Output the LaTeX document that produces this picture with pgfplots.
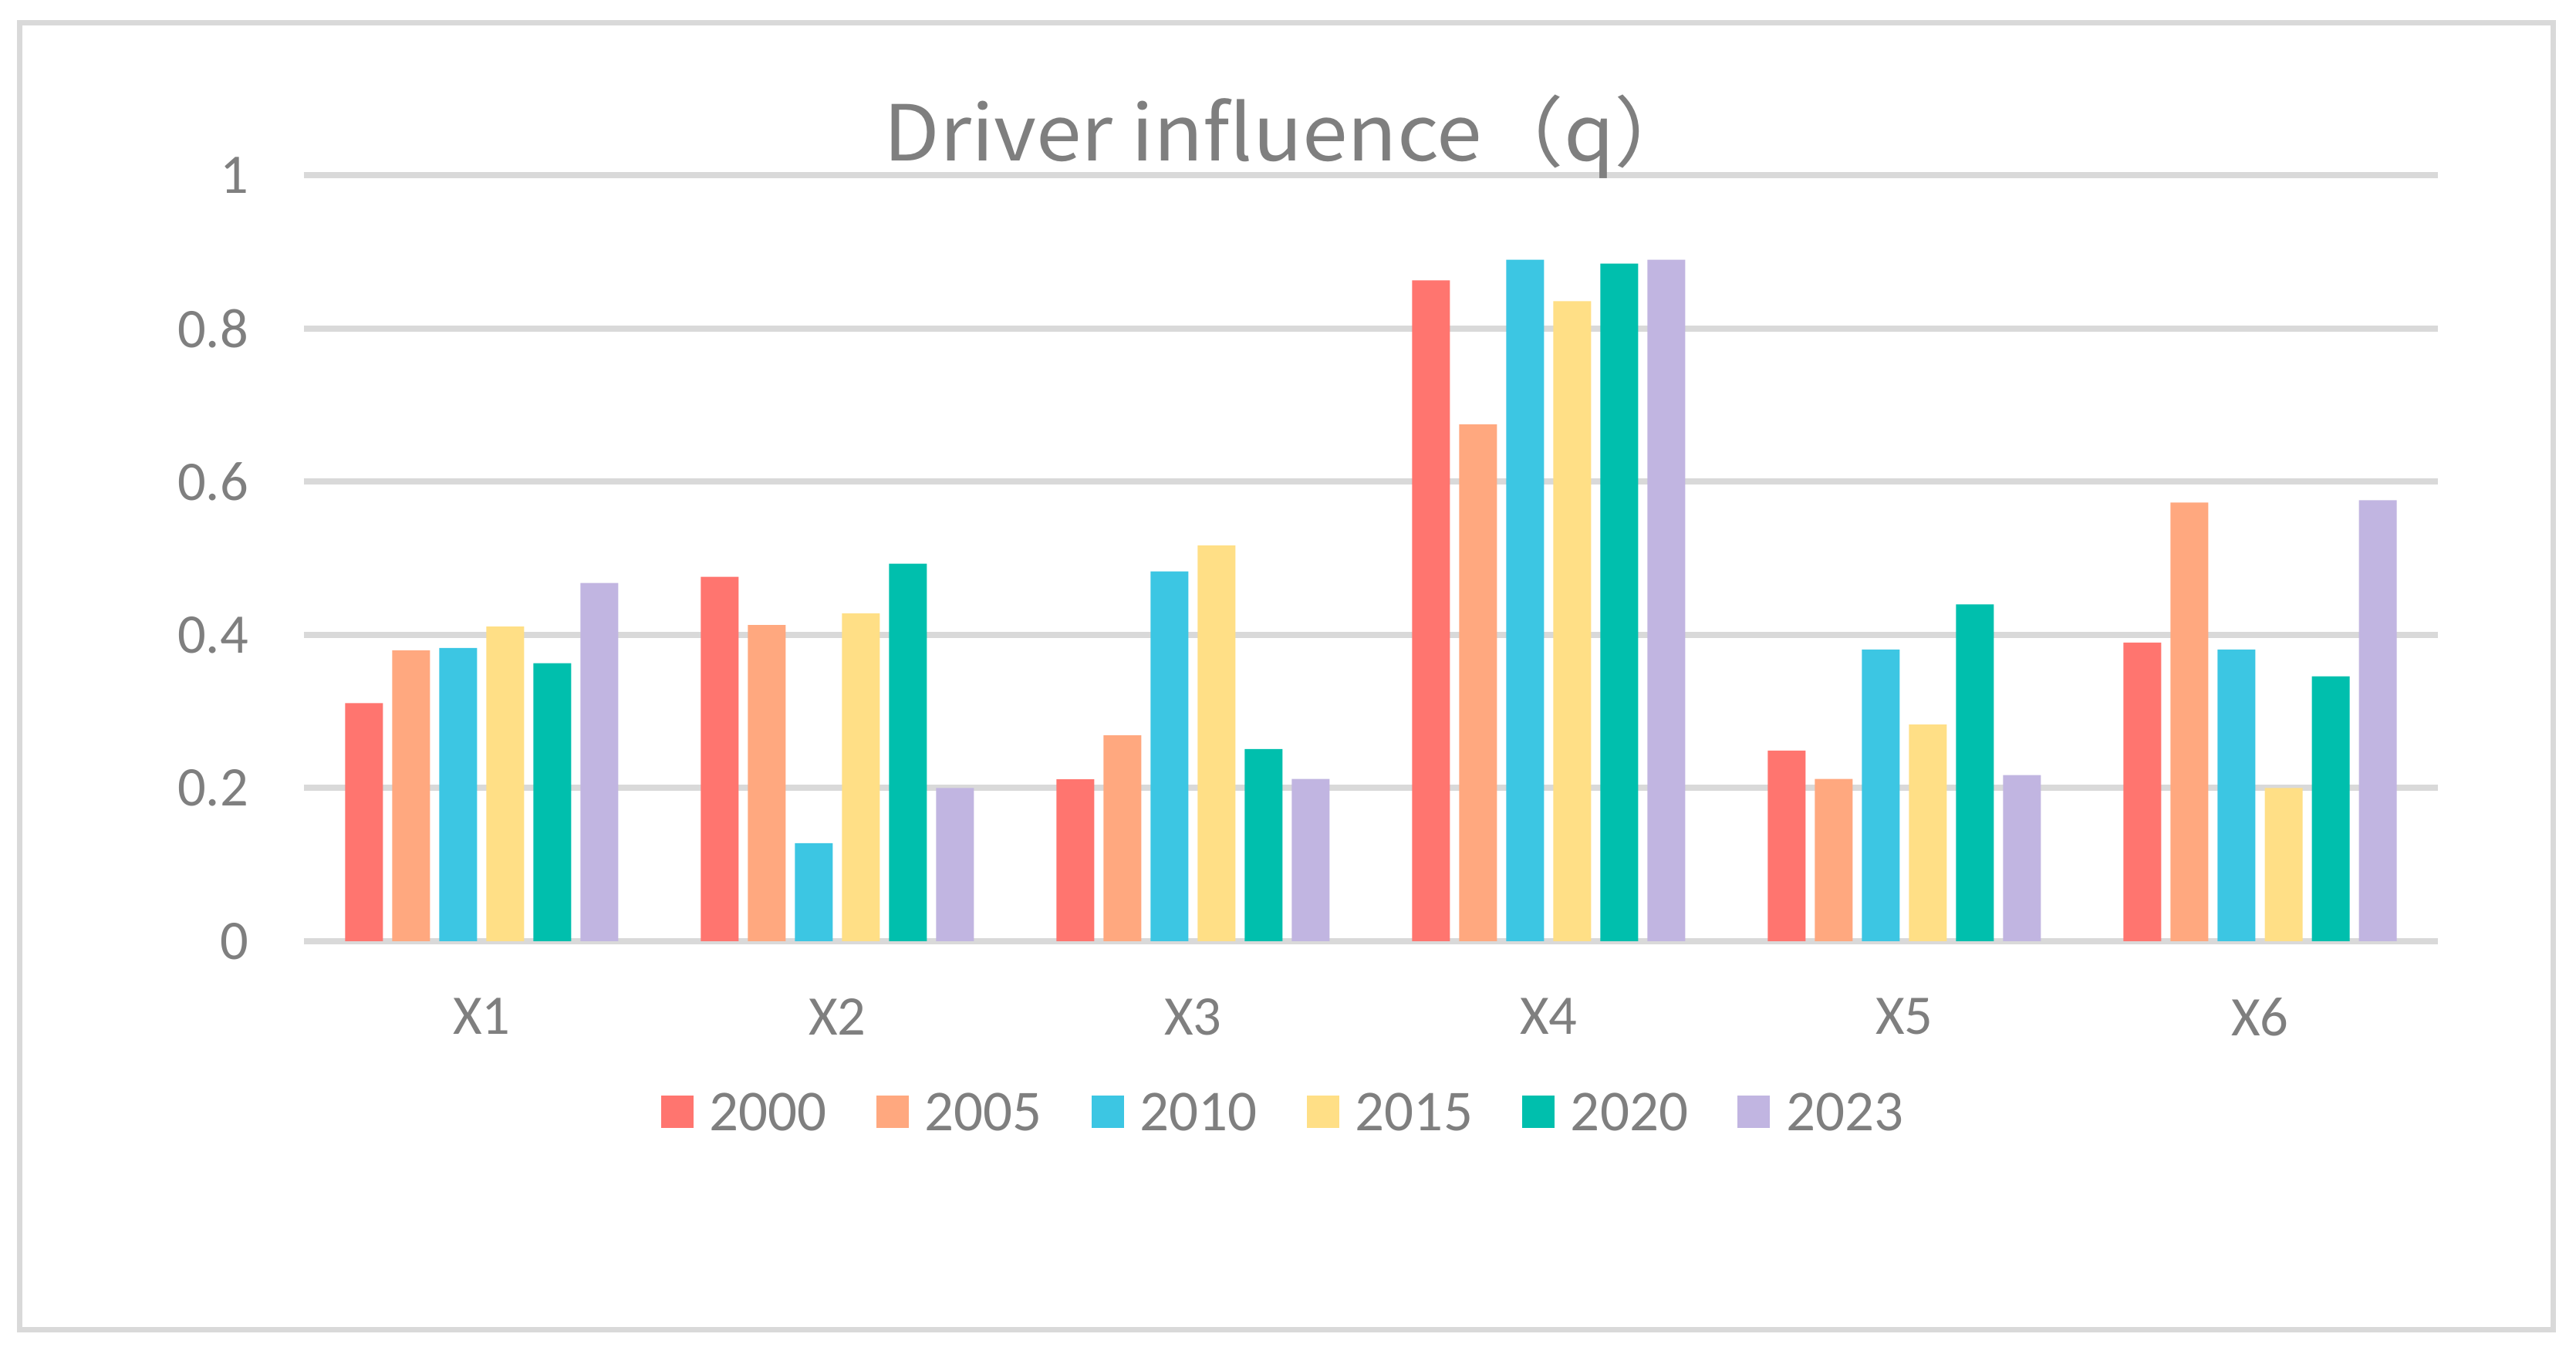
\documentclass[border=0pt]{standalone}
\usepackage{fontspec}
\setmainfont{Carlito}
\newfontfamily\cjk{Noto Sans CJK SC}
\usepackage{pgfplots}
\pgfplotsset{compat=1.18}
\definecolor{c1}{HTML}{FF756F}
\definecolor{c2}{HTML}{FFA87F}
\definecolor{c3}{HTML}{3CC6E3}
\definecolor{c4}{HTML}{FFDF86}
\definecolor{c5}{HTML}{00BFAD}
\definecolor{c6}{HTML}{C1B5E1}
\definecolor{gridc}{HTML}{D9D9D9}
\definecolor{txt}{HTML}{7F7F7F}
\pgfplotsset{sq/.style={fill=#1, draw=none,
  legend image code/.code={\fill[##1] (0pt,-3.4pt) rectangle (8.4pt,5pt);}}}
\begin{document}
\begin{tikzpicture}
\useasboundingbox (-78.8pt,-107pt) rectangle (589pt,244pt);
\draw[gridc, line width=1.4pt] (-73.7pt,-100.7pt) rectangle (583.1pt,238.1pt);
\begin{axis}[
  at={(0,0)}, anchor=south west,
  scale only axis, width=553.2pt, height=198.5pt,
  xmin=-0.5, xmax=5.5, ymin=0, ymax=1,
  ybar=2.4pt, bar width=9.8pt,
  xtick={0,1,2,3,4,5}, xticklabels={X1,X2,X3,X4,X5,X6},
  ytick={0,0.2,0.4,0.6,0.8,1}, yticklabels={0,0.2,0.4,0.6,0.8,1},
  ymajorgrids, grid style={gridc, line width=1.6pt},
  axis line style={draw=none}, major tick length=0pt, tick style={draw=none},
  /pgf/number format/assume math mode=true,
  tick label style={font=\fontsize{14.5}{16}\selectfont, text=txt, inner sep=0pt},
  yticklabel style={anchor=east, xshift=-14.2pt},
  xticklabel style={anchor=north, yshift=-14.6pt},
  legend columns=6,
  legend style={draw=none, fill=none, inner sep=0pt, outer sep=0pt,
    at={(0.4584,-0.2265)}, anchor=center,
    font=\fontsize{15}{16}\selectfont, text=txt,
    nodes={inner sep=0pt},
    /tikz/every odd column/.append style={column sep=4.2pt},
    /tikz/every even column/.append style={column sep=12.8pt}},
]
\addplot[sq=c1] coordinates {(0,0.311) (1,0.476) (2,0.2115) (3,0.863) (4,0.249) (5,0.390)};
\addplot[sq=c2] coordinates {(0,0.380) (1,0.413) (2,0.269) (3,0.675) (4,0.212) (5,0.573)};
\addplot[sq=c3] coordinates {(0,0.383) (1,0.128) (2,0.483) (3,0.890) (4,0.381) (5,0.381)};
\addplot[sq=c4] coordinates {(0,0.411) (1,0.428) (2,0.517) (3,0.836) (4,0.283) (5,0.200)};
\addplot[sq=c5] coordinates {(0,0.363) (1,0.493) (2,0.251) (3,0.885) (4,0.440) (5,0.346)};
\addplot[sq=c6] coordinates {(0,0.468) (1,0.200) (2,0.212) (3,0.890) (4,0.217) (5,0.576)};
\legend{2000,2005,2010,2015,2020,2023}
\end{axis}
\node[anchor=base, text=txt, font=\cjk\fontsize{20}{24}\selectfont, inner sep=0pt, xscale=1.057] at (255.6pt,202.2pt) {Driver influence（q）};
\end{tikzpicture}
\end{document}
